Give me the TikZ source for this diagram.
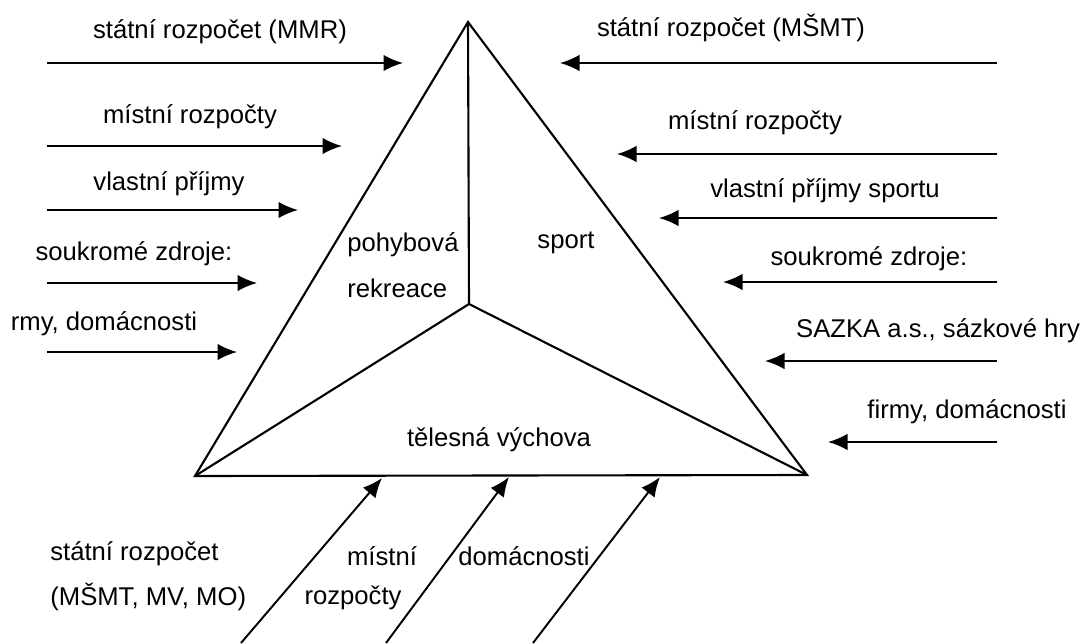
\documentclass[tikz,border=0pt]{standalone}
\usepackage{fontspec}
\setmainfont{Liberation Sans}
\usetikzlibrary{arrows.meta}

\begin{document}
\begin{tikzpicture}[x=0.02cm, y=-0.02cm,
  lab/.style={inner sep=0pt, font=\fontsize{14.6}{17}\selectfont},
  flow/.style={line width=1.1pt, -{Latex[length=3.9mm, width=3.3mm]}},
  edge/.style={line width=1.2pt}]
\useasboundingbox (0,0) rectangle (1086,643);

% triangle
\coordinate (top) at (468, 22);
\coordinate (left) at (195, 476);
\coordinate (right) at (807, 475);
\coordinate (mid) at (469, 304);

\draw [edge] (top) -- (left) -- (right) -- cycle;
\draw [edge] (top) -- (mid);
\draw [edge] (left) -- (mid) -- (right);

\node [lab, anchor=west] (PR1) at (347, 245) {pohybová};
\node [lab, anchor=west] (PR2) at (347, 288) {rekreace};
\node [lab] (SP) at (566, 243) {sport};
\node [lab] (TV) at (499, 440) {tělesná výchova};

% left side
\node [lab] (LMMR) at (220, 32) {státní rozpočet (MMR)};
\node [lab] (LMR) at (190, 117) {místní rozpočty};
\node [lab] (LVP) at (169, 184) {vlastní příjmy};
\node [lab] (LSZ) at (134, 254) {soukromé zdroje:};
\node [lab] (LFD) at (104, 324) {rmy, domácnosti};

\coordinate (LMMRs) at (47, 63);  \coordinate (LMMRe) at (403, 63);
\coordinate (LMRs) at (47, 146);  \coordinate (LMRe) at (342, 146);
\coordinate (LVPs) at (47, 210);  \coordinate (LVPe) at (298, 210);
\coordinate (LSZs) at (47, 283);  \coordinate (LSZe) at (257, 283);
\coordinate (LFDs) at (47, 352);  \coordinate (LFDe) at (237, 352);

\draw [flow] (LMMRs) -- (LMMRe);
\draw [flow] (LMRs) -- (LMRe);
\draw [flow] (LVPs) -- (LVPe);
\draw [flow] (LSZs) -- (LSZe);
\draw [flow] (LFDs) -- (LFDe);

% right side
\node [lab] (RMSMT) at (731, 28) {státní rozpočet (MŠMT)};
\node [lab] (RMR) at (755, 123) {místní rozpočty};
\node [lab] (RVP) at (825, 191) {vlastní příjmy sportu};
\node [lab] (RSZ) at (869, 259) {soukromé zdroje:};
\node [lab] (RSA) at (938, 331) {SAZKA a.s., sázkové hry};
\node [lab] (RFD) at (967, 412) {firmy, domácnosti};

\coordinate (RMSMTs) at (997, 63);  \coordinate (RMSMTe) at (560, 63);
\coordinate (RMRs) at (997, 154);   \coordinate (RMRe) at (617, 154);
\coordinate (RVPs) at (997, 218);   \coordinate (RVPe) at (659, 218);
\coordinate (RSZs) at (997, 282);   \coordinate (RSZe) at (723, 282);
\coordinate (RSAs) at (997, 361);   \coordinate (RSAe) at (765, 361);
\coordinate (RFDs) at (997, 442);   \coordinate (RFDe) at (828, 442);

\draw [flow] (RMSMTs) -- (RMSMTe);
\draw [flow] (RMRs) -- (RMRe);
\draw [flow] (RVPs) -- (RVPe);
\draw [flow] (RSZs) -- (RSZe);
\draw [flow] (RSAs) -- (RSAe);
\draw [flow] (RFDs) -- (RFDe);

% bottom
\node [lab, anchor=west] (BSR1) at (50, 554) {státní rozpočet};
\node [lab, anchor=west] (BSR2) at (50, 597) {(MŠMT, MV, MO)};
\node [lab] (BMR1) at (382, 556) {místní};
\node [lab] (BMR2) at (353, 598) {rozpočty};
\node [lab] (BDO) at (524, 556) {domácnosti};

\coordinate (BSRs) at (241, 643);  \coordinate (BSRe) at (382, 478);
\coordinate (BMRs) at (386, 643);  \coordinate (BMRe) at (509, 477);
\coordinate (BDOs) at (533, 643);  \coordinate (BDOe) at (660, 477);

\draw [flow] (BSRs) -- (BSRe);
\draw [flow] (BMRs) -- (BMRe);
\draw [flow] (BDOs) -- (BDOe);

\end{tikzpicture}
\end{document}
